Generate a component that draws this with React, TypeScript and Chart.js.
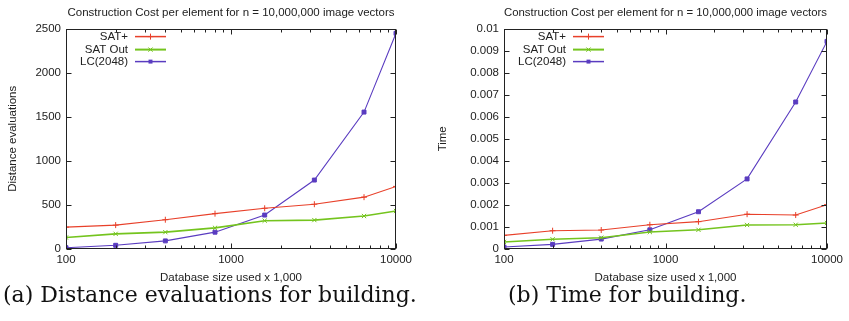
import React, { useEffect, useRef } from "react";
import { Chart, registerables } from "chart.js";

Chart.register(...registerables);

// ---------- data ----------
const xValues = [100, 200, 400, 800, 1600, 3200, 6400, 10000];
const seriesNames = ["SAT+", "SAT Out", "LC(2048)"];

const distSatPlus = [248, 271, 332, 401, 462, 508, 588, 710];
const distSatOut = [130, 172, 191, 240, 321, 328, 374, 431];
const distLC = [15, 42, 92, 191, 385, 782, 1553, 2447];

const timeSatPlus = [0.00062, 0.00083, 0.00086, 0.0011, 0.00124, 0.00158, 0.00154, 0.00201];
const timeSatOut = [0.00032, 0.00044, 0.00051, 0.00077, 0.00087, 0.00109, 0.0011, 0.00118];
const timeLC = [0.00009, 0.00021, 0.00045, 0.00087, 0.00169, 0.00318, 0.00667, 0.00942];

const xTickValues = [100, 1000, 10000];
const xTickLabels = ["100", "1000", "10000"];
const xMinorTicks = [200, 300, 400, 500, 600, 700, 800, 900, 2000, 3000, 4000, 5000, 6000, 7000, 8000, 9000];

const distTicks = [0, 500, 1000, 1500, 2000, 2500];
const distTickLabels = ["0", "500", "1000", "1500", "2000", "2500"];
const timeTicks = [0, 0.001, 0.002, 0.003, 0.004, 0.005, 0.006, 0.007, 0.008, 0.009, 0.01];
const timeTickLabels = ["0", "0.001", "0.002", "0.003", "0.004", "0.005", "0.006", "0.007", "0.008", "0.009", "0.01"];

const chartTitle = "Construction Cost per element for n = 10,000,000 image vectors";
const xTitle = "Database size used x 1,000";

// ---------- styles ----------
const colors = ["#e8402a", "#74c41e", "#5a3cc0"];
const lineWidths = [1.1, 1.6, 1.1];
const pointStyles = ["cross", "crossRot", "rect"];
const pointRadii = [3, 3, 2.8];
const textColor = "#222";
const sansFont = { family: "'Liberation Sans', Arial, sans-serif", size: 11.5, weight: "normal" as const };

function drawMarker(ctx: CanvasRenderingContext2D, style: string, x: number, y: number, r: number, color: string) {
  ctx.save();
  ctx.strokeStyle = color;
  ctx.fillStyle = color;
  ctx.lineWidth = 1;
  ctx.beginPath();
  if (style === "cross") {
    ctx.moveTo(x - r, y); ctx.lineTo(x + r, y);
    ctx.moveTo(x, y - r); ctx.lineTo(x, y + r);
    ctx.stroke();
  } else if (style === "crossRot") {
    const d = r * Math.SQRT1_2;
    ctx.moveTo(x - d, y - d); ctx.lineTo(x + d, y + d);
    ctx.moveTo(x - d, y + d); ctx.lineTo(x + d, y - d);
    ctx.stroke();
  } else {
    const s = r * Math.SQRT1_2;
    ctx.fillRect(x - s, y - s, 2 * s, 2 * s);
  }
  ctx.restore();
}

const frameTicksPlugin = {
  id: "frameTicks",
  afterDatasetsDraw(chart: any, _args: any, opts: any) {
    const { ctx, chartArea: a, scales } = chart;
    const xs = scales.x;
    const ys = scales.y;
    ctx.save();
    ctx.strokeStyle = textColor;
    ctx.lineWidth = 1;
    ctx.beginPath();
    const L = Math.round(a.left) + 0.5;
    const R = Math.round(a.right) - 0.5;
    const T = Math.round(a.top) + 0.5;
    const B = Math.round(a.bottom) - 0.5;
    for (const v of opts.yMajor) {
      const py = Math.round(ys.getPixelForValue(v)) + 0.5;
      ctx.moveTo(L, py); ctx.lineTo(L + 5, py);
      ctx.moveTo(R, py); ctx.lineTo(R - 5, py);
    }
    for (const v of xTickValues) {
      const px = Math.round(xs.getPixelForValue(v)) + 0.5;
      ctx.moveTo(px, B); ctx.lineTo(px, B - 5);
      ctx.moveTo(px, T); ctx.lineTo(px, T + 5);
    }
    for (const v of xMinorTicks) {
      const px = Math.round(xs.getPixelForValue(v)) + 0.5;
      ctx.moveTo(px, B); ctx.lineTo(px, B - 3);
      ctx.moveTo(px, T); ctx.lineTo(px, T + 3);
    }
    ctx.stroke();
    ctx.strokeRect(L, T, R - L, B - T);

    // legend (top-left inside the plot, text right-aligned, sample on the right)
    ctx.font = `${sansFont.size}px ${sansFont.family}`;
    ctx.textAlign = "right";
    ctx.textBaseline = "middle";
    const rows = [8, 21, 33];
    seriesNames.forEach((name, i) => {
      const yy = a.top + rows[i];
      ctx.fillStyle = textColor;
      ctx.fillText(name, a.left + 62, yy);
      ctx.strokeStyle = colors[i];
      ctx.lineWidth = lineWidths[i] + 0.4;
      ctx.beginPath();
      ctx.moveTo(a.left + 69, yy);
      ctx.lineTo(a.left + 100, yy);
      ctx.stroke();
      drawMarker(ctx, pointStyles[i], a.left + 84.5, yy, pointRadii[i], colors[i]);
    });
    ctx.restore();
  },
};

type PanelProps = {
  width: number;
  height: number;
  series: number[][];
  yTicks: number[];
  yTickLabels: string[];
  yMax: number;
  yTitle: string;
  yAxisWidth: number;
  yTitlePad: number;
  padRight: number;
};

function ChartPanel(p: PanelProps) {
  const ref = useRef<HTMLCanvasElement>(null);
  useEffect(() => {
    if (!ref.current) return;
    const datasets = p.series.map((ys, i) => ({
      label: seriesNames[i],
      data: xValues.map((x, j) => ({ x, y: ys[j] })),
      borderColor: colors[i],
      backgroundColor: colors[i],
      borderWidth: lineWidths[i],
      pointStyle: pointStyles[i] as any,
      pointRadius: pointRadii[i],
      pointBorderWidth: 1,
      pointBorderColor: colors[i],
      pointBackgroundColor: colors[i],
      tension: 0,
      fill: false,
    }));
    const chart = new Chart(ref.current, {
      type: "line",
      data: { datasets },
      options: {
        animation: false,
        responsive: false,
        devicePixelRatio: 1,
        layout: { padding: { top: 0, right: p.padRight, left: 0, bottom: 0 } },
        plugins: {
          legend: { display: false },
          tooltip: { enabled: false },
          title: {
            display: true,
            fullSize: false,
            text: chartTitle,
            color: textColor,
            font: sansFont,
            padding: { top: 5.8, bottom: 9.0 },
          },
          // @ts-ignore
          frameTicks: { yMajor: p.yTicks },
        },
        scales: {
          x: {
            type: "logarithmic",
            min: 100,
            max: 10000,
            grid: { display: false, drawTicks: false },
            border: { display: false },
            afterBuildTicks: (s: any) => {
              s.ticks = xTickValues.map((v) => ({ value: v, major: true }));
            },
            ticks: {
              autoSkip: false,
              maxRotation: 0,
              padding: 4.4,
              color: textColor,
              font: sansFont,
              callback: (_v: any, i: number) => xTickLabels[i],
            },
            title: {
              display: true,
              text: xTitle,
              color: textColor,
              font: sansFont,
              padding: { top: 0, bottom: 1.4 },
            },
            afterFit: (s: any) => {
              s.height = p.height - 249;
            },
          },
          y: {
            type: "linear",
            min: 0,
            max: p.yMax,
            grid: { display: false, drawTicks: false },
            border: { display: false },
            afterBuildTicks: (s: any) => {
              s.ticks = p.yTicks.map((v) => ({ value: v }));
            },
            ticks: {
              autoSkip: false,
              padding: 5,
              color: textColor,
              font: sansFont,
              callback: (_v: any, i: number) => p.yTickLabels[i],
            },
            title: {
              display: true,
              text: p.yTitle,
              color: textColor,
              font: sansFont,
              padding: { top: p.yTitlePad, bottom: 0 },
            },
            afterFit: (s: any) => {
              s.width = p.yAxisWidth;
            },
          },
        },
      },
      plugins: [frameTicksPlugin],
    });
    return () => chart.destroy();
  }, []);
  return <canvas ref={ref} width={p.width} height={p.height} style={{ display: "block", width: p.width, height: p.height }} />;
}

const captionStyle: React.CSSProperties = {
  position: "absolute",
  top: 283.5,
  fontFamily: "'DejaVu Serif', 'Liberation Serif', serif",
  fontSize: 22,
  lineHeight: "22px",
  color: "#111",
  whiteSpace: "nowrap",
};

export default function App() {
  return (
    <div style={{ position: "absolute", left: 0, top: 0, width: 849, height: 321, background: "#fff", overflow: "hidden" }}>
      <div style={{ position: "absolute", left: 0, top: 0 }}>
        <ChartPanel
          width={420}
          height={286}
          series={[distSatPlus, distSatOut, distLC]}
          yTicks={distTicks}
          yTickLabels={distTickLabels}
          yMax={2500}
          yTitle="Distance evaluations"
          yAxisWidth={66}
          yTitlePad={6.4}
          padRight={24}
        />
      </div>
      <div style={{ position: "absolute", left: 420, top: 0 }}>
        <ChartPanel
          width={429}
          height={286}
          series={[timeSatPlus, timeSatOut, timeLC]}
          yTicks={timeTicks}
          yTickLabels={timeTickLabels}
          yMax={0.01}
          yTitle="Time"
          yAxisWidth={84}
          yTitlePad={16.4}
          padRight={22}
        />
      </div>
      <div style={{ ...captionStyle, left: 3 }}>(a) Distance evaluations for building.</div>
      <div style={{ ...captionStyle, left: 508 }}>(b) Time for building.</div>
    </div>
  );
}
